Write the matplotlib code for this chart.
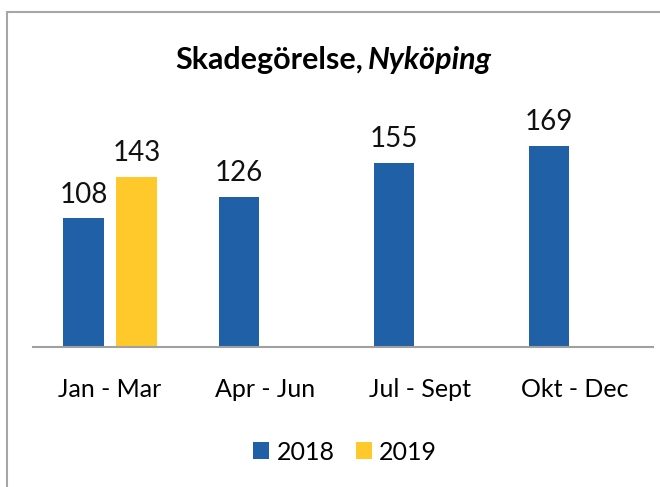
import matplotlib
matplotlib.use("Agg")
from matplotlib import pyplot as plt
from matplotlib.patches import Rectangle
import numpy as np

categories = ["Jan - Mar", "Apr - Jun", "Jul - Sept", "Okt - Dec"]
values_2018 = [108, 126, 155, 169]
values_2019 = [143, None, None, None]
series_names = ["2018", "2019"]

plt.rcParams['font.family'] = ['Lato', 'DejaVu Sans']

blue = "#1F60A6"
yellow = "#FFC92B"

fig = plt.figure(figsize=(6.6, 4.87), dpi=100)
ax = fig.add_axes([32.5 / 660, 140 / 487, 620 / 660, 238 / 487])

x = np.arange(len(categories))
w = 0.26
off = 0.17

# 2018 bars sit left of centre, 2019 right of centre
b18 = ax.bar(x - off, values_2018, width=w, color=blue, label=series_names[0])
x19 = [xi + off for xi, v in zip(x, values_2019) if v is not None]
v19 = [v for v in values_2019 if v is not None]
b19 = ax.bar(x19, v19, width=w, color=yellow, label=series_names[1])

for bars in (b18, b19):
    for r in bars:
        ax.annotate(f"{int(r.get_height())}", (r.get_x() + r.get_width() / 2, r.get_height()),
                    xytext=(0, 11.5), textcoords="offset points", ha="center", va="baseline",
                    fontsize=20, color="#111111")

ax.set_xlim(-0.5, 3.5)
ax.set_ylim(0, 200)
ax.set_yticks([])
ax.set_xticks(x)
ax.set_xticklabels(categories, fontsize=18)
ax.tick_params(axis="x", length=0, pad=22)
for s in ("top", "right", "left"):
    ax.spines[s].set_visible(False)
ax.spines["bottom"].set_color("#a0a0a0")
ax.spines["bottom"].set_linewidth(1.5)

# title with italic place name
fig.text(363 / 660, 1 - 60 / 487, "Skadegörelse,", ha="right", va="center",
         fontsize=22, fontweight="bold")
fig.text(368 / 660, 1 - 60 / 487, "Nyköping", ha="left", va="center",
         fontsize=22, fontweight="bold", style="italic")

fig.legend(handles=[b18, b19], labels=series_names, loc="center",
           bbox_to_anchor=(345 / 660, 1 - 452 / 487), ncol=2, frameon=False,
           fontsize=18, handlelength=0.65, handleheight=0.65, handletextpad=0.3,
           columnspacing=0.85)

# outer chart border (cut off at right and bottom)
fig.patches.append(Rectangle((7 / 660, -0.1), 1.2, 1 - 12 / 487 + 0.1,
                             transform=fig.transFigure, fill=False,
                             edgecolor="#a6a6a6", linewidth=1.5))

fig.savefig("out.png", dpi=100)
